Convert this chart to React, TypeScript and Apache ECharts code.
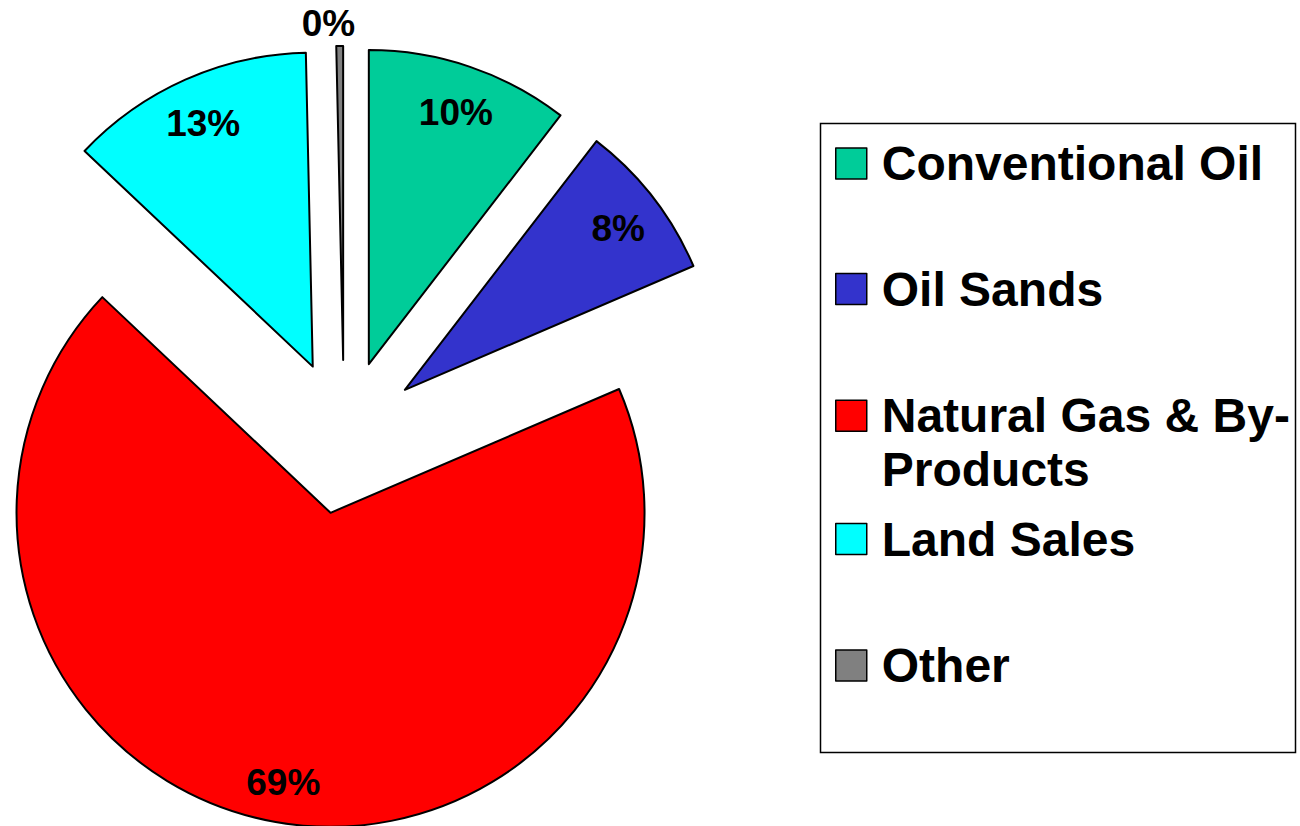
import React, { useEffect, useRef } from 'react';
import * as echarts from 'echarts';

// ---- data ----
const categories = ['Conventional Oil', 'Oil Sands', 'Natural Gas & By-Products', 'Land Sales', 'Other'];
const shares = [10.45, 8.1, 68.5, 12.6, 0.35];
const colors = ['#00CC99', '#3333CC', '#FF0000', '#00FFFF', '#808080'];
const legendLabels = ['Conventional Oil', 'Oil Sands', '\nNatural Gas & By-\nProducts', 'Land Sales', 'Other'];

// ---- layout ----
const FONT = "'Liberation Sans', Arial, Helvetica, sans-serif";
const CENTER = [344, 437];
const RADIUS = 314;
const EXPLODE = 77;
const legendCenters = [163.5, 289, 415.7, 539, 665.5];

const pctLabel = (p: any) => Math.round(p.percent) + '%';

export default function App() {
  const ref = useRef<HTMLDivElement>(null);
  useEffect(() => {
    if (!ref.current) return;
    const chart = echarts.init(ref.current, undefined, { renderer: 'svg' });
    const labelStyle = {
      position: 'inside',
      formatter: pctLabel,
      fontSize: 37,
      fontWeight: 'bold',
      fontFamily: FONT,
      color: '#000',
      overflow: 'none',
    };
    const transparentItem = { color: 'rgba(0,0,0,0)', borderWidth: 0 };
    chart.setOption({
      animation: false,
      backgroundColor: '#ffffff',
      graphic: [
        {
          type: 'rect',
          x: 820.5,
          y: 123.5,
          z: -10,
          shape: { width: 475, height: 629 },
          style: { fill: '#ffffff', stroke: '#000000', lineWidth: 1.5 },
          silent: true,
        },
      ],
      legend: categories.map((name, i) => {
        const lines = legendLabels[i].split('\n').length;
        return {
          data: [name],
          orient: 'vertical',
          left: 835,
          top: legendCenters[i] - (lines * 54) / 2,
          padding: 0,
          itemWidth: 31,
          itemHeight: 31,
          icon: 'rect',
          selectedMode: false,
          itemStyle: { borderColor: '#000', borderWidth: 1.5 },
          formatter: () => legendLabels[i],
          textStyle: {
            fontSize: 48,
            fontWeight: 'bold',
            fontFamily: FONT,
            color: '#000',
            lineHeight: 54,
            padding: [0, 0, 0, 10],
          },
        };
      }),
      series: [
        {
          type: 'pie',
          center: CENTER,
          radius: RADIUS,
          startAngle: 90,
          clockwise: true,
          selectedMode: 'multiple',
          selectedOffset: EXPLODE,
          data: categories.map((n, i) => ({
            name: n,
            value: shares[i],
            selected: true,
            itemStyle: { color: colors[i] },
          })),
          itemStyle: { borderColor: '#000', borderWidth: 2 },
          select: { itemStyle: { borderColor: '#000', borderWidth: 2 } },
          emphasis: { disabled: true },
          label: { show: false },
          labelLine: { show: false },
        },
        {
          type: 'pie',
          center: [CENTER[0], CENTER[1] + 4],
          radius: [330, 358],
          startAngle: 90,
          clockwise: true,
          silent: true,
          selectedMode: false,
          data: categories.map((n, i) => ({
            name: n,
            value: shares[i],
            itemStyle: transparentItem,
            label: { show: i < 4 },
          })),
          itemStyle: transparentItem,
          emphasis: { disabled: true },
          label: labelStyle,
          labelLine: { show: false },
        },
        {
          type: 'pie',
          center: [333, 440],
          radius: [400, 428],
          startAngle: 90,
          clockwise: true,
          silent: true,
          selectedMode: false,
          data: categories.map((n, i) => ({
            name: n,
            value: shares[i],
            itemStyle: transparentItem,
            label: { show: i === 4 },
          })),
          itemStyle: transparentItem,
          emphasis: { disabled: true },
          label: labelStyle,
          labelLine: { show: false },
        },
      ],
    });
    return () => chart.dispose();
  }, []);
  return (
    <div
      ref={ref}
      style={{ position: 'fixed', left: 0, top: 0, width: 1300, height: 826, background: '#fff' }}
    />
  );
}
